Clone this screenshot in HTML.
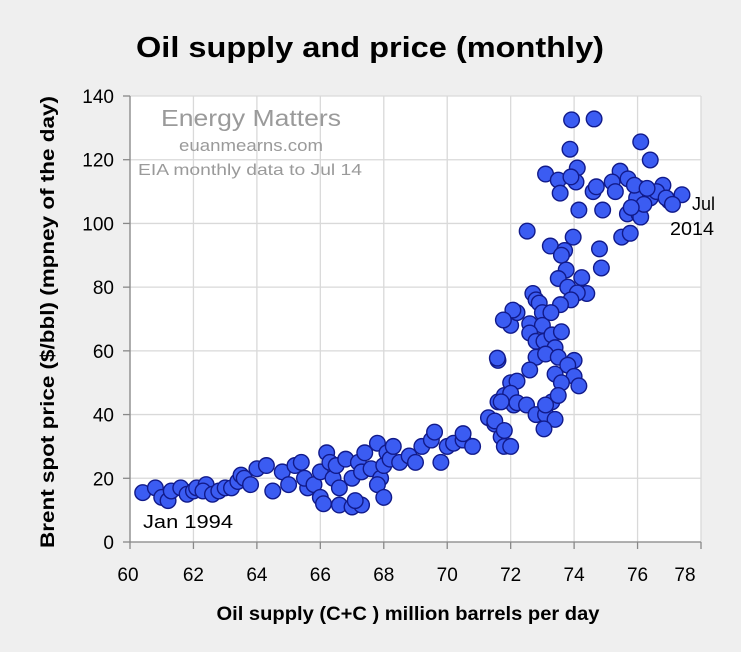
<!DOCTYPE html>
<html><head><meta charset="utf-8"><style>
body{margin:0;background:#efefef;}
svg{display:block;font-family:"Liberation Sans",sans-serif;}
</style></head><body>
<svg id="chart" width="741" height="652">
<rect width="741" height="652" fill="#efefef"/>
<text x="370" y="57" text-anchor="middle" font-size="29" font-weight="bold" fill="#000" textLength="468" lengthAdjust="spacingAndGlyphs">Oil supply and price (monthly)</text>
<rect x="130" y="96" width="571" height="446" fill="#fff"/>
<g id="grid"></g>
<g id="axes"></g>
<text x="251" y="126" text-anchor="middle" font-size="23" fill="#9a9a9a" textLength="180" lengthAdjust="spacingAndGlyphs">Energy Matters</text>
<text x="251" y="151" text-anchor="middle" font-size="17" fill="#9a9a9a" textLength="144" lengthAdjust="spacingAndGlyphs">euanmearns.com</text>
<text x="250" y="175" text-anchor="middle" font-size="16" fill="#9a9a9a" textLength="224" lengthAdjust="spacingAndGlyphs">EIA monthly data to Jul 14</text>
<g id="pts"></g>
<text x="143" y="528" font-size="18" fill="#000" textLength="90" lengthAdjust="spacingAndGlyphs">Jan 1994</text>
<text x="692" y="210" font-size="18" fill="#000">Jul</text>
<text x="670" y="235" font-size="18" fill="#000" textLength="44" lengthAdjust="spacingAndGlyphs">2014</text>
<text x="408" y="620" text-anchor="middle" font-size="19" font-weight="bold" fill="#000" textLength="383" lengthAdjust="spacingAndGlyphs">Oil supply (C+C ) million barrels per day</text>
<text transform="translate(54,322) rotate(-90)" text-anchor="middle" font-size="19" font-weight="bold" fill="#000" textLength="452" lengthAdjust="spacingAndGlyphs">Brent spot price ($/bbl) (mpney of the day)</text>
</svg>
<script>
const xTicks=[60,62,64,66,68,70,72,74,76,78];
const yTicks=[0,20,40,60,80,100,120,140];
const supply=[60.4,60.8,61,61.2,61.3,61.6,61.8,62,62.1,62.4,62.3,62.6,62.8,63,63.2,63.4,63.5,63.6,63.8,64,64.3,64.5,64.8,65,65.2,65.4,65.6,65.5,65.8,66,66,66.1,66.2,66.3,66.4,66.5,66.6,66.8,66.6,67,67.3,67,67.2,67.3,67.4,67.1,67.6,67.8,67.9,67.8,68,68,68.1,68.2,68.3,68.5,68.8,69,69.2,69.5,69.6,69.8,70,70.2,70.5,70.5,70.8,71.3,71.5,71.7,71.8,72,71.6,71.8,72,72.1,71.6,72,72.2,72.52,
73.92,74.63,76.1,73.87,76.4,73.1,73.5,73.56,74.1,74.06,73.9,74.6,74.7,74.15,74.9,75.45,75.2,75.7,76.05,76.1,75.97,76.4,76.8,77.0,77.4,75.68,76.04,76.1,75.5,75.77,73.25,73.97,73.7,73.6,74.8,74.86,73.75,73.5,74.24,73.8,74.4,74.1,73.9,73.57,72.7,72.8,72.9,73,72.07,71.77,72.6,73,73.27,72.6,72.8,73.05,73.3,73.6,73.4,72.8,73.1,73.5,74.0,71.58,72.6,73.8,73.4,74,74.15,73.6,72.2,72.0,71.7,72.2,72.5,72.8,73.1,73.3,73.5,73.1,73.4,71.5,71.8,73.05,
75.9,76.6,76.2,75.3,76.9,77.1,75.8,76.3];
const price=[15.5,17,14,13,16,17,15,16,17,18,16,15,16,17,17,19,21,20,18,23,24,16,22,18,24,25,17,20,18,22,14,12,28,25,20,24,17,26,11.6,11,11.6,20,25,22,28,13,23,31,20,18,14,24,28,26,30,25,27,25,30,32,34.5,25,30,31,32,34,30,39,37,33,30,30,44,46,50,43,57,68,72,97.6,
132.5,132.8,125.6,123.3,119.9,115.5,113.6,109.5,117.4,113,114.6,110,111.5,104.2,104.2,116.4,113,114,111,110.5,108,108,112,107,109,103,103,102,95.7,96.9,92.9,95.7,91.5,90,92,86,85.4,82.7,83,80,78,78.2,76,74.5,78,76,75,72,72.8,69.7,68.5,68,72,65.6,63,63,65,66,61,58,59,58,57,57.7,54,55.5,52.7,52,49,50,50.5,46.7,44,43.7,43,40,40,44,46,43,38.5,38,35,35.5,
112,110,106,110,108,106,105,111];
const X=v=>130+(v-60)*(571/18), Y=v=>542-v*(446/140);
const NS='http://www.w3.org/2000/svg';
const grid=document.getElementById('grid'),axes=document.getElementById('axes'),pts=document.getElementById('pts');
function mk(tag,attrs,parent){const e=document.createElementNS(NS,tag);for(const k in attrs)e.setAttribute(k,attrs[k]);parent.appendChild(e);return e;}
xTicks.forEach(t=>{
 const g=mk('line',{x1:X(t),x2:X(t),y1:96,y2:542,stroke:'#d9d9d9','stroke-width':1.3},grid);
 
 
 const tk=mk('line',{x1:X(t),x2:X(t),y1:542,y2:549,stroke:'#888','stroke-width':1.3},axes);
 
 
 const tx=mk('text',{x:X(t)-(t===78?16:0)+(t===60?-2:0),y:581,'text-anchor':'middle','font-size':19,fill:'#000'},axes);
 tx.textContent=t;
 
 
});
yTicks.forEach(t=>{
 const g=mk('line',{x1:130,x2:701,y1:Y(t),y2:Y(t),stroke:'#d9d9d9','stroke-width':1.3},grid);
 
 
 const tk=mk('line',{x1:123,x2:130,y1:Y(t),y2:Y(t),stroke:'#888','stroke-width':1.3},axes);
 
 
 const tx=mk('text',{x:114,y:Y(t)+7,'text-anchor':'end','font-size':19,fill:'#000'},axes);
 tx.textContent=t;
 
 
});
const ax=mk('path',{d:'M130 96V542H701',fill:'none',stroke:'#888','stroke-width':1.3},axes);


supply.forEach((s,i)=>{
 const c=mk('circle',{cx:X(s),cy:Y(price[i]),r:7.8,fill:'#3b5cf2',stroke:'#111a8a','stroke-width':1.4},pts);
 
 
});
</script>
</body></html>
